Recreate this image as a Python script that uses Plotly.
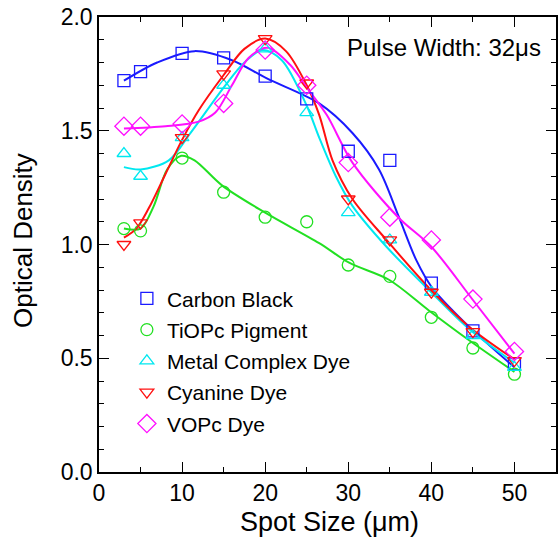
import plotly.graph_objects as go

spot = [3, 5, 10, 15, 20, 25, 30, 35, 40, 45, 50]

carbon_black = [1.72, 1.76, 1.84, 1.82, 1.74, 1.64, 1.41, 1.37, 0.83, 0.62, 0.475]
tiopc = [1.07, 1.06, 1.38, 1.23, 1.12, 1.10, 0.91, 0.86, 0.68, 0.545, 0.43]
metal_complex = [1.40, 1.30, 1.47, 1.70, 1.86, 1.58, 1.14, 1.02, 0.79, 0.60, 0.46]
cyanine = [1.00, 1.095, 1.47, 1.75, 1.905, 1.71, 1.20, 1.02, 0.79, 0.617, 0.49]
vopc = [1.52, 1.52, 1.53, 1.62, 1.855, 1.70, 1.36, 1.12, 1.02, 0.76, 0.53]

# fitted curves
cb_fit_x = [3, 7, 11.5, 16, 20.2, 26.5, 30.5, 33.7, 36.1, 38.2, 40.1, 44.5, 50]
cb_fit_y = [1.72, 1.80, 1.85, 1.81, 1.73, 1.62, 1.49, 1.33, 1.12, 0.93, 0.81, 0.64, 0.46]
ti_fit_x = [3, 5, 6.6, 8.2, 9.9, 11.5, 14.8, 20, 26.5, 30.1, 34.9, 39.7, 44.5, 50]
ti_fit_y = [1.07, 1.07, 1.17, 1.33, 1.39, 1.37, 1.26, 1.14, 1.006, 0.92, 0.845, 0.71, 0.58, 0.44]
mc_fit_x = [3, 5, 8.4, 11, 15, 17.5, 19.7, 22, 25, 26.5, 28.5, 30.5, 34.6, 39.7, 44.5, 50]
mc_fit_y = [1.34, 1.33, 1.37, 1.49, 1.69, 1.80, 1.855, 1.81, 1.61, 1.47, 1.30, 1.17, 0.99, 0.80, 0.63, 0.48]
cy_fit_x = [3, 4.5, 6, 8, 10, 12, 15, 17.5, 20, 22.5, 25, 26.5, 28.1, 30.5, 34.6, 39.7, 44.5, 50]
cy_fit_y = [1.03, 1.07, 1.16, 1.31, 1.46, 1.59, 1.745, 1.86, 1.905, 1.85, 1.70, 1.57, 1.37, 1.20, 1.02, 0.81, 0.64, 0.495]
vo_fit_x = [3, 8, 12, 14, 16, 18, 20.3, 23, 25, 27.4, 30.5, 36, 40, 45, 50]
vo_fit_y = [1.51, 1.52, 1.54, 1.58, 1.70, 1.82, 1.865, 1.79, 1.69, 1.57, 1.36, 1.12, 0.99, 0.756, 0.52]

names = ["Carbon Black", "TiOPc Pigment", "Metal Complex Dye", "Cyanine Dye", "VOPc Dye"]
colors = ["#1a1aff", "#22e022", "#00e8f0", "#ff1010", "#ff10ff"]
symbols = ["square-open", "circle-open", "triangle-up-open", "triangle-down-open", "diamond-open"]
sizes = [12, 12, 12, 12, 14]
series = [carbon_black, tiopc, metal_complex, cyanine, vopc]
fits = [(cb_fit_x, cb_fit_y), (ti_fit_x, ti_fit_y), (mc_fit_x, mc_fit_y),
        (cy_fit_x, cy_fit_y), (vo_fit_x, vo_fit_y)]

FONT = "Liberation Sans, Arial, sans-serif"

fig = go.Figure()
for (fx, fy), c in zip(fits, colors):
    fig.add_trace(go.Scatter(x=fx, y=fy, mode="lines",
                             line=dict(color=c, width=2, shape="spline", smoothing=0.9),
                             showlegend=False, hoverinfo="skip"))
for i, (n, c, s, sz, ys) in enumerate(zip(names, colors, symbols, sizes, series)):
    fig.add_trace(go.Scatter(x=spot, y=ys, mode="markers", name=n, legendgroup=str(i),
                             marker=dict(symbol=s, size=sz, color=c, line=dict(color=c, width=1.3))))

axis_common = dict(showline=True, linecolor="black", linewidth=1.5, mirror="ticks",
                   ticks="inside", tickcolor="black", showgrid=False, zeroline=False,
                   tickfont=dict(size=23, color="black", family=FONT), automargin=False,
                   ticklabeloverflow="allow")

fig.update_xaxes(range=[0, 55], tickvals=[0, 10, 20, 30, 40, 50], ticklen=10, tickwidth=1.2,
                 minor=dict(dtick=5, ticks="inside", ticklen=5, tickcolor="black", tickwidth=1.2),
                 **axis_common)
fig.update_yaxes(range=[0, 2.0], tickvals=[0, 0.5, 1.0, 1.5, 2.0], tickformat=".1f", ticklen=10, tickwidth=1.2,
                 minor=dict(dtick=0.1, ticks="inside", ticklen=5, tickcolor="black", tickwidth=1.2),
                 **axis_common)

# axis titles
fig.add_annotation(text="Spot Size (μm)", xref="paper", yref="paper", x=0.505, y=-0.110,
                   xanchor="center", yanchor="middle", showarrow=False,
                   font=dict(size=27, color="black", family=FONT))
fig.add_annotation(text="Optical Density", xref="paper", yref="paper", x=-0.166, y=0.508,
                   xanchor="center", yanchor="middle", showarrow=False, textangle=-90,
                   font=dict(size=26, color="black", family=FONT))

fig.add_annotation(text="Pulse Width: 32μs", xref="paper", yref="paper", x=0.9716, y=0.934,
                   xanchor="right", yanchor="middle", showarrow=False,
                   font=dict(size=24, color="black", family=FONT))

fig.update_layout(
    width=558, height=541,
    margin=dict(l=99, r=2, t=17, b=69),
    plot_bgcolor="white", paper_bgcolor="white",
    font=dict(family=FONT, color="black"),
    legend=dict(x=0.061, y=0.426, xanchor="left", yanchor="top", bgcolor="rgba(0,0,0,0)",
                font=dict(size=21, color="black", family=FONT), tracegroupgap=1, traceorder="grouped",
                itemwidth=30),
)

# remove the default 8px page margin so the figure fills the window exactly
fig.write_html("out.html", config={"displayModeBar": False},
               post_script="document.body.style.margin='0px';")
